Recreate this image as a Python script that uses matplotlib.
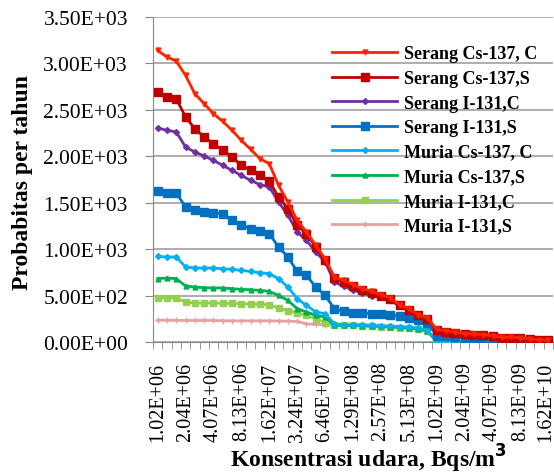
import matplotlib.pyplot as plt
import matplotlib.transforms as mtransforms
import numpy as np

plt.rcParams['font.family'] = ['Liberation Serif', 'DejaVu Serif']

x_labels = ['1.02E+06', '2.04E+06', '4.07E+06', '8.13E+06', '1.62E+07',
            '3.24E+07', '6.46E+07', '1.29E+08', '2.57E+08', '5.13E+08',
            '1.02E+09', '2.04E+09', '4.07E+09', '8.13E+09', '1.62E+10']
y_labels = ['0.00E+00', '5.00E+02', '1.00E+03', '1.50E+03', '2.00E+03',
            '2.50E+03', '3.00E+03', '3.50E+03']

serang_cs_c = [3140, 3069, 3026, 2871, 2674, 2567, 2459, 2376, 2279, 2171, 2074, 1974,
               1920, 1687, 1508, 1310, 1185, 1040, 897,
               700, 663, 617, 575, 545, 509, 474, 402, 359, 294, 258,
               136, 118, 105, 90, 84, 80, 66, 50, 52, 44, 32, 22, 20]
serang_cs_s = [2693, 2639, 2620, 2423, 2297, 2208, 2136, 2064, 1992, 1902, 1848, 1794,
               1730, 1561, 1436, 1256, 1166, 1023, 879,
               690, 646, 603, 556, 530, 500, 465, 395, 350, 290, 250,
               130, 112, 100, 88, 80, 75, 62, 48, 48, 40, 30, 20, 18]
serang_i_c = [2305, 2279, 2262, 2100, 2046, 2003, 1956, 1902, 1848, 1794, 1740, 1695,
              1669, 1508, 1364, 1185, 1094, 969, 862,
              646, 600, 560, 525, 500, 480, 450, 385, 340, 280, 240,
              110, 95, 85, 75, 68, 62, 55, 45, 40, 35, 28, 20, 15]
serang_i_s = [1626, 1608, 1605, 1454, 1417, 1400, 1393, 1382, 1310, 1256, 1220, 1195,
              1166, 1023, 915, 760, 717, 592, 502,
              359, 330, 316, 310, 305, 298, 290, 280, 262, 240, 205,
              70, 60, 52, 45, 40, 35, 30, 25, 20, 15, 12, 8, 5]
muria_cs_c = [922, 916, 916, 808, 797, 797, 797, 789, 782, 771, 760, 746,
              736, 682, 592, 466, 394, 323, 305,
              197, 186, 186, 186, 180, 175, 170, 165, 160, 150, 125,
              8, 6, 5, 4, 3, 3, 2, 2, 2, 1, 1, 1, 1]
muria_cs_s = [682, 689, 682, 603, 592, 585, 582, 582, 574, 567, 563, 556,
              545, 502, 448, 359, 323, 287, 269,
              179, 179, 178, 176, 172, 168, 163, 158, 150, 140, 118,
              5, 4, 4, 3, 3, 2, 2, 2, 1, 1, 1, 1, 1]
muria_i_c = [474, 474, 474, 431, 420, 420, 420, 416, 416, 412, 409, 405,
             402, 366, 337, 312, 287, 251, 208,
             182, 180, 178, 175, 170, 166, 160, 155, 148, 138, 115,
             4, 3, 3, 3, 2, 2, 2, 1, 1, 1, 1, 1, 1]
muria_i_s = [235, 235, 234, 232, 232, 232, 232, 230, 228, 228, 228, 228,
             228, 226, 225, 222, 195, 190, 185,
             180, 178, 176, 174, 170, 165, 160, 155, 148, 138, 115,
             3, 3, 2, 2, 2, 1, 1, 1, 1, 1, 1, 1, 1]

series = [
    ('Serang Cs-137, C', serang_cs_c, '#FF2200', 'v', 3.5),
    ('Serang Cs-137,S', serang_cs_s, '#C00000', 's', 6),
    ('Serang I-131,C', serang_i_c, '#7030A0', 'D', 3),
    ('Serang I-131,S', serang_i_s, '#0070C0', 's', 6),
    ('Muria Cs-137, C', muria_cs_c, '#00B0F0', 'D', 3),
    ('Muria Cs-137,S', muria_cs_s, '#00B050', '^', 3.5),
    ('Muria I-131,C', muria_i_c, '#92D050', 's', 4.5),
    ('Muria I-131,S', muria_i_s, '#E6A0A0', '+', 4),
]

fig = plt.figure(figsize=(5.54, 4.77), dpi=100)
ax = fig.add_axes([153 / 554, 1 - 343 / 477, 400 / 554, 325 / 477])

n = len(serang_cs_c)
x = np.arange(n)
for k, (name, vals, col, mk, ms) in enumerate(series):
    ax.plot(x, vals, color=col, lw=2, marker=mk, ms=ms, mew=1,
            label=name, zorder=10 - k)

ax.set_xlim(-0.5, n - 0.5)
ax.set_ylim(0, 3500)
ax.set_yticks(np.arange(0, 3501, 500))
ax.set_yticklabels(y_labels)
ax.set_xticks(np.arange(0, n, 3))
ax.set_xticklabels(x_labels, rotation=90)
ax.set_xticks(np.arange(n + 1) - 0.5, minor=True)
ax.tick_params(axis='x', which='major', length=0, pad=14, labelsize=14.5)
ax.tick_params(axis='x', which='minor', length=5, color='#888888')
ax.tick_params(axis='y', length=6, color='#888888', pad=12, labelsize=15.5)

# last label sits right at the figure edge, nudge it in a little
last = ax.get_xticklabels()[-1]
last.set_transform(last.get_transform() +
                   mtransforms.ScaledTranslation(-3 / 100, 0, fig.dpi_scale_trans))

ax.grid(axis='y', color='#A0A0A0', lw=1.2)
ax.set_axisbelow(True)
for s in ['top', 'right']:
    ax.spines[s].set_visible(False)
for s in ['left', 'bottom']:
    ax.spines[s].set_color('#888888')

leg = ax.legend(loc='upper left', bbox_to_anchor=(0.43, 0.935), frameon=False,
                prop={'weight': 'bold', 'size': 13}, handlelength=3.6,
                labelspacing=0.42, handletextpad=0.4, borderaxespad=0)

fig.text(0.04, 0.618, 'Probabitas per tahun', rotation=90, ha='center', va='center',
         fontsize=17, fontweight='bold')
fig.text(0.665, 0.038, 'Konsentrasi udara, Bqs/m$^\\mathbf{3}$', ha='center', va='center',
         fontsize=17, fontweight='bold')

fig.savefig('out.png', dpi=100)
